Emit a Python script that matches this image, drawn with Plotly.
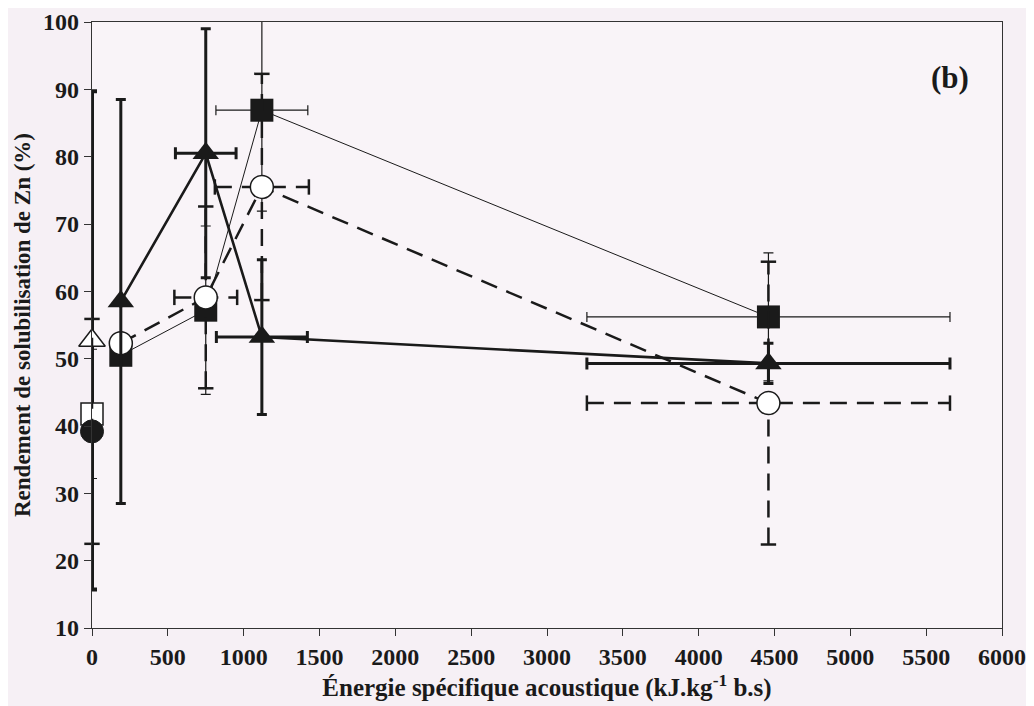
import plotly.graph_objects as go

# Energie specifique acoustique (kJ/kg b.s) et rendement de solubilisation du Zn (%)
energy = [190, 750, 1120, 4460]

# triangles pleins (trait epais)
tri_y = [58.5, 80.5, 53.2, 49.3]
tri_ey = [30.0, 18.5, 11.5, 3.0]
tri_ex = [0, 200, 300, 1197]

# carres pleins (trait fin)
sq_y = [50.5, 57.2, 86.9, 56.2]
sq_ey = [0, 12.5, 15.0, 9.5]
sq_ex = [0, 0, 303, 1197]

# cercles vides (tirets)
circ_y = [52.3, 59.1, 75.5, 43.4]
circ_ey = [0, 13.5, 16.8, 21.0]
circ_ex = [0, 207, 310, 1197]

# temoins a energie nulle
ctrl_x = [0]
ctrl_tri_y = [52.7]
ctrl_tri_ey = [37.0]
ctrl_sq_y = [41.8]
ctrl_sq_ey = [9.6]
ctrl_circ_y = [39.2]
ctrl_circ_ey = [16.7]

INK = "#1a1a1a"
FONT = "Liberation Serif"
DASH = "17px,10px"

fig = go.Figure()


def dashed_bars(xs, ys, exs, eys):
    """Dashed error bars (plotly only draws solid ones) + solid caps."""
    vx, vy, hx, hy = [], [], [], []
    capv_x, capv_y, caph_x, caph_y = [], [], [], []
    for x, y, ex, ey in zip(xs, ys, exs, eys):
        if ey > 0:
            vx += [x, x, None]
            vy += [y - ey, y + ey, None]
            capv_x += [x, x]
            capv_y += [y - ey, y + ey]
        if ex > 0:
            hx += [x - ex, x + ex, None]
            hy += [y, y, None]
            caph_x += [x - ex, x + ex]
            caph_y += [y, y]
    line = dict(color=INK, width=2.5, dash=DASH)
    fig.add_trace(go.Scatter(x=vx, y=vy, mode="lines", line=line,
                             showlegend=False, hoverinfo="skip"))
    fig.add_trace(go.Scatter(x=hx, y=hy, mode="lines", line=line,
                             showlegend=False, hoverinfo="skip"))
    fig.add_trace(go.Scatter(x=capv_x, y=capv_y, mode="markers",
                             marker=dict(symbol="line-ew", size=11,
                                         line=dict(color=INK, width=2.5)),
                             showlegend=False, hoverinfo="skip",
                             cliponaxis=False))
    fig.add_trace(go.Scatter(x=caph_x, y=caph_y, mode="markers",
                             marker=dict(symbol="line-ns", size=11,
                                         line=dict(color=INK, width=2.5)),
                             showlegend=False, hoverinfo="skip",
                             cliponaxis=False))


# controls at x = 0
fig.add_trace(go.Scatter(
    x=ctrl_x, y=ctrl_tri_y, mode="markers",
    error_y=dict(type="data", array=ctrl_tri_ey, color=INK, thickness=4, width=5),
    marker=dict(symbol="triangle-up", size=23, color="white",
                line=dict(color=INK, width=1.5)),
    cliponaxis=False, showlegend=False))
fig.add_trace(go.Scatter(
    x=ctrl_x, y=ctrl_sq_y, mode="markers",
    error_y=dict(type="data", array=ctrl_sq_ey, color=INK, thickness=1.2, width=5),
    marker=dict(symbol="square", size=22, color="white",
                line=dict(color=INK, width=1.5)),
    cliponaxis=False, showlegend=False))
dashed_bars(ctrl_x, ctrl_circ_y, [0], ctrl_circ_ey)
fig.add_trace(go.Scatter(
    x=ctrl_x, y=ctrl_circ_y, mode="markers",
    marker=dict(symbol="circle", size=23, color=INK,
                line=dict(color=INK, width=1)),
    cliponaxis=False, showlegend=False))

# square series (thin line)
fig.add_trace(go.Scatter(
    x=energy, y=sq_y, mode="lines+markers",
    line=dict(color=INK, width=1),
    error_y=dict(type="data", array=sq_ey, color=INK, thickness=1.2, width=5),
    error_x=dict(type="data", array=sq_ex, color=INK, thickness=1.2, width=5),
    marker=dict(symbol="square", size=23, color=INK),
    cliponaxis=False, showlegend=False))

# circle series (dashed)
dashed_bars(energy, circ_y, circ_ex, circ_ey)
fig.add_trace(go.Scatter(
    x=energy, y=circ_y, mode="lines+markers",
    line=dict(color=INK, width=2.5, dash=DASH),
    marker=dict(symbol="circle", size=23, color="white",
                line=dict(color=INK, width=1.5)),
    cliponaxis=False, showlegend=False))

# triangle series (thick line)
fig.add_trace(go.Scatter(
    x=energy, y=tri_y, mode="lines+markers",
    line=dict(color=INK, width=2.6),
    error_y=dict(type="data", array=tri_ey, color=INK, thickness=3, width=5),
    error_x=dict(type="data", array=tri_ex, color=INK, thickness=3, width=6),
    marker=dict(symbol="triangle-up", size=23, color=INK),
    cliponaxis=False, showlegend=False))

fig.add_annotation(x=0.943, y=0.908, xref="paper", yref="paper",
                   xanchor="center", yanchor="middle",
                   text="<b>(b)</b>", showarrow=False,
                   font=dict(family=FONT, size=31, color=INK))

axis_common = dict(
    showline=True, linecolor="#333333", linewidth=1.2, mirror=True,
    ticks="outside", ticklen=7, tickcolor="#333333", tickwidth=1,
    showgrid=False, zeroline=False, automargin=False,
    tickfont=dict(family=FONT, size=24, color=INK),
)

fig.update_xaxes(range=[0, 6000], dtick=500, tick0=0,
                 title=dict(text="<b>Énergie spécifique acoustique (kJ.kg<sup>-1</sup> b.s)</b>",
                            font=dict(family=FONT, size=25, color=INK), standoff=2),
                 tickprefix="<b>", ticksuffix="</b>", **axis_common)
fig.update_yaxes(range=[10, 100], dtick=10, tick0=10,
                 title=dict(text="<b>Rendement de solubilisation de Zn (%)</b>",
                            font=dict(family=FONT, size=23, color=INK), standoff=6),
                 tickprefix="<b>", ticksuffix="</b>", **axis_common)

# the page body adds an 8px offset, so margins are shifted accordingly
fig.update_layout(
    width=1034, height=706,
    margin=dict(l=84, r=40, t=14, b=86),
    paper_bgcolor="#f6f0f5",
    plot_bgcolor="#f9f4f8",
    font=dict(family=FONT, color=INK),
)

fig.write_html("out.html")
